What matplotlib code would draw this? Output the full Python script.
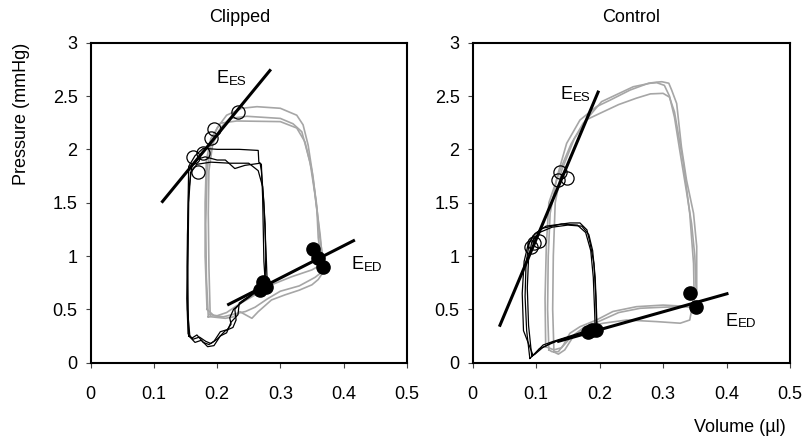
import numpy as np
import matplotlib
matplotlib.use('Agg')
import matplotlib.pyplot as plt

plt.rcParams['font.family'] = ['Liberation Sans', 'DejaVu Sans']
plt.rcParams['font.size'] = 13

# ---- Clipped: pressure-volume loops (volume in ul, pressure in mmHg)
clip_gray_v = [
    [0.186, 0.183, 0.182, 0.184, 0.190, 0.200, 0.215, 0.239, 0.263, 0.300, 0.326, 0.336, 0.344, 0.352, 0.358,
     0.360, 0.365, 0.368, 0.360, 0.350, 0.330, 0.307, 0.286, 0.265, 0.255, 0.236, 0.226, 0.213, 0.191, 0.186],
    [0.189, 0.187, 0.186, 0.187, 0.193, 0.205, 0.220, 0.247, 0.300, 0.320, 0.334, 0.347, 0.355, 0.363, 0.366,
     0.365, 0.350, 0.318, 0.286, 0.260, 0.235, 0.215, 0.200, 0.189],
    [0.184, 0.181, 0.181, 0.183, 0.190, 0.205, 0.231, 0.300, 0.326, 0.339, 0.350, 0.357, 0.362, 0.368, 0.370,
     0.355, 0.330, 0.300, 0.280, 0.260, 0.245, 0.230, 0.210, 0.195, 0.184],
]
clip_gray_p = [
    [0.43, 0.80, 1.30, 1.80, 2.05, 2.20, 2.32, 2.385, 2.40, 2.385, 2.32, 2.23, 2.04, 1.73, 1.42,
     1.17, 0.95, 0.85, 0.78, 0.73, 0.68, 0.635, 0.588, 0.478, 0.416, 0.478, 0.43, 0.416, 0.43, 0.43],
    [0.45, 0.90, 1.40, 1.80, 2.05, 2.20, 2.29, 2.31, 2.29, 2.24, 2.165, 1.88, 1.57, 1.20, 1.00,
     0.92, 0.87, 0.806, 0.73, 0.635, 0.55, 0.47, 0.44, 0.45],
    [0.50, 1.00, 1.50, 1.90, 2.10, 2.245, 2.266, 2.26, 2.20, 2.07, 1.80, 1.50, 1.20, 0.95, 0.87,
     0.80, 0.72, 0.67, 0.60, 0.52, 0.48, 0.46, 0.43, 0.44, 0.50],
]
clip_black_v = [
    [0.155, 0.153, 0.154, 0.155, 0.165, 0.178, 0.200, 0.235, 0.265, 0.266, 0.270, 0.272, 0.273, 0.274, 0.276,
     0.270, 0.250, 0.236, 0.226, 0.220, 0.222, 0.216, 0.205, 0.195, 0.187, 0.178, 0.168, 0.160, 0.155],
    [0.160, 0.170, 0.181, 0.200, 0.213, 0.228, 0.244, 0.268, 0.270, 0.274, 0.276, 0.278, 0.279, 0.272, 0.255,
     0.240, 0.228, 0.230, 0.225, 0.213, 0.200, 0.190, 0.182, 0.172, 0.162, 0.154, 0.152, 0.153, 0.155, 0.160],
    [0.158, 0.168, 0.190, 0.220, 0.250, 0.265, 0.272, 0.276, 0.277, 0.276, 0.268, 0.250, 0.235, 0.233, 0.222,
     0.215, 0.205, 0.195, 0.185, 0.175, 0.165, 0.157, 0.153, 0.154, 0.155, 0.158],
]
clip_black_p = [
    [0.25, 0.90, 1.50, 1.84, 1.94, 2.01, 2.00, 2.00, 1.99, 1.88, 1.86, 1.55, 1.25, 0.95, 0.76,
     0.70, 0.61, 0.55, 0.50, 0.42, 0.36, 0.31, 0.29, 0.20, 0.17, 0.19, 0.26, 0.23, 0.25],
    [1.85, 1.91, 1.93, 1.90, 1.90, 1.82, 1.85, 1.87, 1.80, 1.50, 1.20, 0.95, 0.78, 0.70, 0.64,
     0.58, 0.50, 0.40, 0.33, 0.30, 0.22, 0.18, 0.20, 0.24, 0.22, 0.27, 0.60, 1.20, 1.60, 1.85],
    [1.78, 1.86, 1.88, 1.87, 1.87, 1.80, 1.65, 1.30, 1.00, 0.80, 0.72, 0.62, 0.56, 0.45, 0.38,
     0.28, 0.25, 0.16, 0.15, 0.21, 0.19, 0.24, 0.50, 1.00, 1.50, 1.78],
]
clip_ees_v, clip_ees_p = [0.112, 0.285], [1.50, 2.75]
clip_eed_v, clip_eed_p = [0.216, 0.418], [0.54, 1.15]
clip_es_v = [0.2335, 0.1956, 0.190, 0.177, 0.162, 0.170]
clip_es_p = [2.353, 2.188, 2.104, 1.97, 1.93, 1.79]
clip_ed_v = [0.352, 0.360, 0.368, 0.273, 0.268, 0.278]
clip_ed_p = [1.066, 0.98, 0.90, 0.76, 0.68, 0.71]

# ---- Control
ctrl_gray_v = [
    [0.120, 0.118, 0.119, 0.122, 0.133, 0.148, 0.169, 0.195, 0.216, 0.248, 0.277, 0.290, 0.298, 0.309, 0.3135,
     0.3214, 0.329, 0.337, 0.348, 0.353, 0.353, 0.347, 0.332, 0.300, 0.258, 0.221, 0.195, 0.169, 0.153, 0.143,
     0.135, 0.125, 0.120],
    [0.128, 0.126, 0.127, 0.130, 0.140, 0.160, 0.180, 0.2006, 0.230, 0.258, 0.280, 0.300, 0.310, 0.318, 0.332,
     0.342, 0.348, 0.349, 0.342, 0.327, 0.290, 0.2426, 0.206, 0.180, 0.160, 0.145, 0.135, 0.128],
    [0.115, 0.114, 0.116, 0.120, 0.1376, 0.155, 0.174, 0.203, 0.253, 0.280, 0.290, 0.302, 0.310, 0.318, 0.326,
     0.337, 0.345, 0.350, 0.352, 0.345, 0.327, 0.300, 0.264, 0.230, 0.200, 0.175, 0.155, 0.140, 0.128, 0.115],
]
ctrl_gray_p = [
    [0.12, 0.50, 1.00, 1.40, 1.744, 2.056, 2.275, 2.40, 2.46, 2.556, 2.62, 2.63, 2.634, 2.62, 2.556,
     2.43, 2.02, 1.71, 1.40, 1.09, 0.68, 0.556, 0.53, 0.54, 0.525, 0.48, 0.40, 0.337, 0.275, 0.166,
     0.103, 0.103, 0.12],
    [0.10, 0.50, 1.00, 1.50, 1.80, 2.10, 2.28, 2.338, 2.42, 2.48, 2.52, 2.525, 2.49, 2.35, 1.87,
     1.40, 0.93, 0.62, 0.40, 0.37, 0.385, 0.40, 0.37, 0.337, 0.26, 0.12, 0.08, 0.10],
    [0.15, 0.60, 1.10, 1.50, 1.805, 2.05, 2.244, 2.447, 2.587, 2.62, 2.625, 2.60, 2.50, 2.30, 2.00,
     1.60, 1.30, 1.00, 0.70, 0.52, 0.525, 0.52, 0.51, 0.47, 0.39, 0.33, 0.24, 0.14, 0.12, 0.15],
]
ctrl_black_v = [
    [0.090, 0.085, 0.0825, 0.084, 0.089, 0.098, 0.1155, 0.153, 0.169, 0.180, 0.185, 0.191, 0.194, 0.1954,
     0.174, 0.143, 0.127, 0.111, 0.100, 0.093, 0.090],
    [0.093, 0.088, 0.086, 0.088, 0.093, 0.105, 0.125, 0.150, 0.172, 0.183, 0.189, 0.193, 0.195, 0.196,
     0.170, 0.140, 0.120, 0.105, 0.098, 0.093],
    [0.095, 0.080, 0.078, 0.081, 0.087, 0.095, 0.110, 0.140, 0.165, 0.178, 0.186, 0.190, 0.192, 0.193,
     0.175, 0.150, 0.125, 0.110, 0.100, 0.095],
]
ctrl_black_p = [
    [0.04, 0.30, 0.62, 0.93, 1.12, 1.21, 1.28, 1.31, 1.31, 1.245, 1.12, 0.93, 0.62, 0.306,
     0.29, 0.23, 0.20, 0.166, 0.10, 0.056, 0.04],
    [0.06, 0.35, 0.70, 0.98, 1.13, 1.22, 1.27, 1.29, 1.28, 1.20, 1.05, 0.80, 0.50, 0.31,
     0.27, 0.22, 0.17, 0.13, 0.08, 0.06],
    [0.07, 0.30, 0.65, 0.95, 1.10, 1.19, 1.26, 1.30, 1.29, 1.22, 1.05, 0.80, 0.50, 0.32,
     0.28, 0.235, 0.19, 0.14, 0.09, 0.07],
]
ctrl_ees_v, ctrl_ees_p = [0.042, 0.1985], [0.3375, 2.55]
ctrl_eed_v, ctrl_eed_p = [0.133, 0.403], [0.197, 0.65]
ctrl_es_v = [0.1376, 0.135, 0.148, 0.092, 0.096, 0.105]
ctrl_es_p = [1.79, 1.71, 1.73, 1.08, 1.12, 1.14]
ctrl_ed_v = [0.342, 0.352, 0.1875, 0.195, 0.182]
ctrl_ed_p = [0.65, 0.52, 0.306, 0.306, 0.29]

xticks = [0, 0.1, 0.2, 0.3, 0.4, 0.5]
xticklabels = ['0', '0.1', '0.2', '0.3', '0.4', '0.5']
yticks = [0, 0.5, 1, 1.5, 2, 2.5, 3]
yticklabels = ['0', '0.5', '1', '1.5', '2', '2.5', '3']

fig = plt.figure(figsize=(8.03, 4.41), dpi=100)
ax1 = fig.add_axes([0.1130, 0.1776, 0.3935, 0.7256])
ax2 = fig.add_axes([0.5887, 0.1776, 0.3951, 0.7256])


def elastance_label(ax, x, y, sub):
    # big E followed by a small subscript sitting almost on the baseline
    ax.annotate('E', (x, y), fontsize=13, va='baseline')
    ax.annotate(sub, (x, y), xytext=(8.9, -1), textcoords='offset points', fontsize=9.5, va='baseline')


panels = [
    (ax1, clip_gray_v, clip_gray_p, clip_black_v, clip_black_p, clip_ees_v, clip_ees_p,
     clip_eed_v, clip_eed_p, clip_es_v, clip_es_p, clip_ed_v, clip_ed_p,
     (0.199, 2.62), (0.413, 0.876)),
    (ax2, ctrl_gray_v, ctrl_gray_p, ctrl_black_v, ctrl_black_p, ctrl_ees_v, ctrl_ees_p,
     ctrl_eed_v, ctrl_eed_p, ctrl_es_v, ctrl_es_p, ctrl_ed_v, ctrl_ed_p,
     (0.139, 2.47), (0.398, 0.344)),
]

for (ax, gv, gp, bv, bp, esv, esp, edv, edp, cv, cp, fv, fp, es_lab, ed_lab) in panels:
    for v, p in zip(gv, gp):
        ax.plot(v, p, color='#a6a6a6', lw=1.2, zorder=2)
    for v, p in zip(bv, bp):
        ax.plot(v, p, color='black', lw=0.9, zorder=3)
    ax.plot(esv, esp, color='black', lw=2.2, solid_capstyle='butt', zorder=4)
    ax.plot(edv, edp, color='black', lw=2.2, solid_capstyle='butt', zorder=4)
    ax.plot(cv, cp, 'o', mfc='none', mec='black', mew=0.9, ms=9.5, zorder=5)
    ax.plot(fv, fp, 'o', mfc='black', mec='black', ms=9.5, zorder=5)
    elastance_label(ax, es_lab[0], es_lab[1], 'ES')
    elastance_label(ax, ed_lab[0], ed_lab[1], 'ED')

    ax.set_xlim(0, 0.5)
    ax.set_ylim(0, 3)
    ax.set_xticks(xticks)
    ax.set_xticklabels(xticklabels)
    ax.set_yticks(yticks)
    ax.set_yticklabels(yticklabels)
    ax.tick_params(axis='both', direction='out', length=3.5, width=0.8, color='#444444', labelsize=13)
    ax.tick_params(axis='x', pad=13)
    ax.tick_params(axis='y', pad=6)
    for s in ax.spines.values():
        s.set_linewidth(1.5)

fig.text(240 / 803, 1 - 17 / 441, 'Clipped', ha='center', va='center', fontsize=13)
fig.text(631 / 803, 1 - 17 / 441, 'Control', ha='center', va='center', fontsize=13)
fig.text(21.7 / 803, 1 - 113.5 / 441, 'Pressure (mmHg)', rotation=90, ha='center', va='center', fontsize=13)
fig.text(740 / 803, 1 - 427 / 441, 'Volume (µl)', ha='center', va='center', fontsize=13)

fig.savefig('out.png', dpi=100)
